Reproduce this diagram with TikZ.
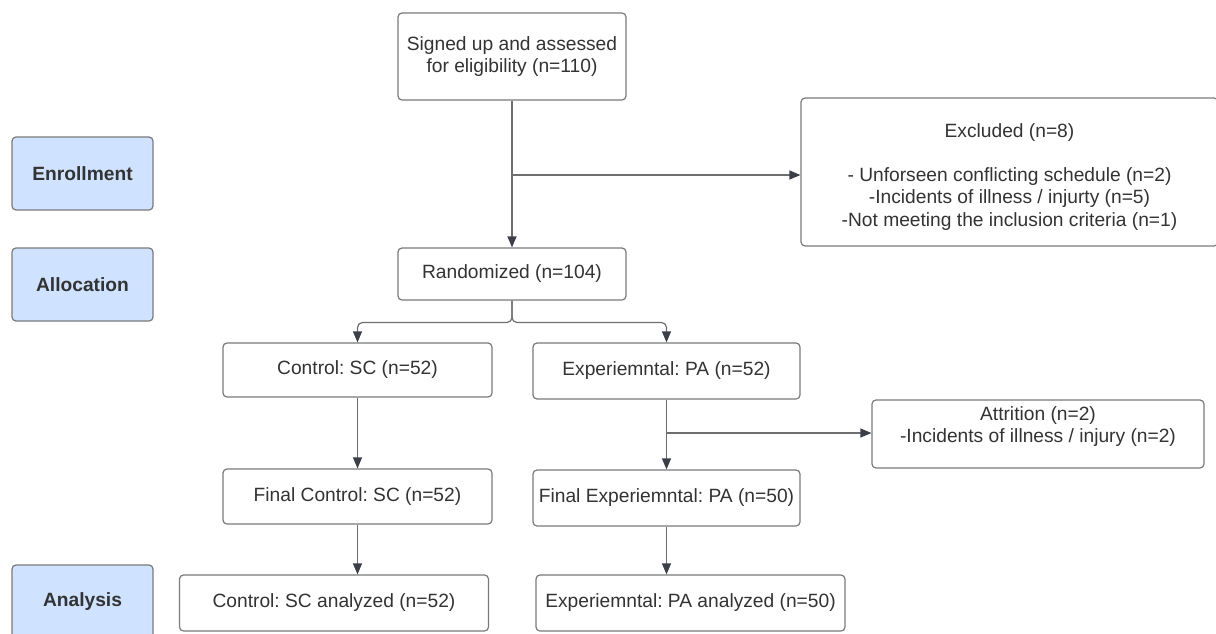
\documentclass[tikz,border=0pt]{standalone}
\usepackage{fontspec}
\setmainfont{Liberation Sans}
\usetikzlibrary{arrows.meta}
\frenchspacing
\definecolor{txt}{HTML}{333333}
\definecolor{edge}{HTML}{7A7A7A}
\definecolor{lne}{HTML}{6E6E6E}
\definecolor{tip}{HTML}{3A3F48}
\definecolor{lblue}{HTML}{CFE2FF}
\tikzset{
  box/.style={draw=edge, line width=1.2pt, rounded corners=4pt, fill=white, text=txt, align=center, inner sep=0pt, font=\fontsize{19.2}{22.5}\selectfont\frenchspacing},
  phase/.style={box, fill=lblue, font=\fontsize{19.2}{22.5}\selectfont\bfseries, minimum width=141pt, minimum height=73pt},
  arr/.style={draw=lne, line width=1.2pt, -{Triangle[length=11pt,width=9pt,fill=tip,color=tip]}},
}
\begin{document}
\begin{tikzpicture}[x=1pt,y=-1pt]
\useasboundingbox (0,0) rectangle (1216,634);
% phase labels
\node[phase] (enr) at (82.5,173.5) {Enrollment};
\node[phase] (alloc) at (82.5,284.5) {Allocation};
\node[phase, minimum height=74pt] (ana) at (82.5,602) {Analysis};
% main boxes
\node[box, minimum width=228pt, minimum height=87pt] (top) at (512,56.5) {Signed up and assessed\\for eligibility (n=110)};
\node[box, minimum width=417pt, minimum height=148pt] (excl) at (1009.5,172) {\rule{0pt}{24pt}Excluded (n=8)\\[21pt]- Unforseen conflicting schedule (n=2)\\-Incidents of illness / injurty (n=5)\\-Not meeting the inclusion criteria (n=1)};
\node[box, minimum width=228pt, minimum height=52pt] (rand) at (512,274) {Randomized (n=104)};
\node[box, minimum width=269pt, minimum height=54pt] (ctrl) at (357.5,370) {Control: SC (n=52)};
\node[box, minimum width=267pt, minimum height=56pt] (exp) at (666.5,371) {Experiemntal: PA (n=52)};
\node[box, minimum width=332pt, minimum height=68pt] (attr) at (1038,434) {Attrition (n=2)\\-Incidents of illness / injury (n=2)\rule[-19pt]{0pt}{1pt}};
\node[box, minimum width=269pt, minimum height=55pt] (fctrl) at (357.5,496.5) {Final Control: SC (n=52)};
\node[box, minimum width=267pt, minimum height=56pt] (fexp) at (666.5,498) {Final Experiemntal: PA (n=50)};
\node[box, minimum width=309pt, minimum height=56pt] (actrl) at (334,603) {Control: SC analyzed (n=52)};
\node[box, minimum width=309pt, minimum height=56pt] (aexp) at (690.5,603) {Experiemntal: PA analyzed (n=50)};
% connectors
\coordinate (b1) at (512,175);
\coordinate (b2) at (666.5,433);
\coordinate (split) at (512,322.5);
\draw[arr] (top.south) -- (rand.north);
\draw[arr] (b1) -- (b1 -| excl.west);
\draw[arr, rounded corners=5pt] (rand.south) -- (split) -| (ctrl.north);
\draw[arr, rounded corners=5pt] (rand.south) -- (split) -| (exp.north);
\draw[arr] (ctrl.south) -- (fctrl.north);
\draw[arr] (exp.south) -- (fexp.north);
\draw[arr] (b2) -- (b2 -| attr.west);
\draw[arr] (fctrl.south) -- (fctrl.south |- actrl.north);
\draw[arr] (fexp.south) -- (fexp.south |- aexp.north);
\end{tikzpicture}
\end{document}
